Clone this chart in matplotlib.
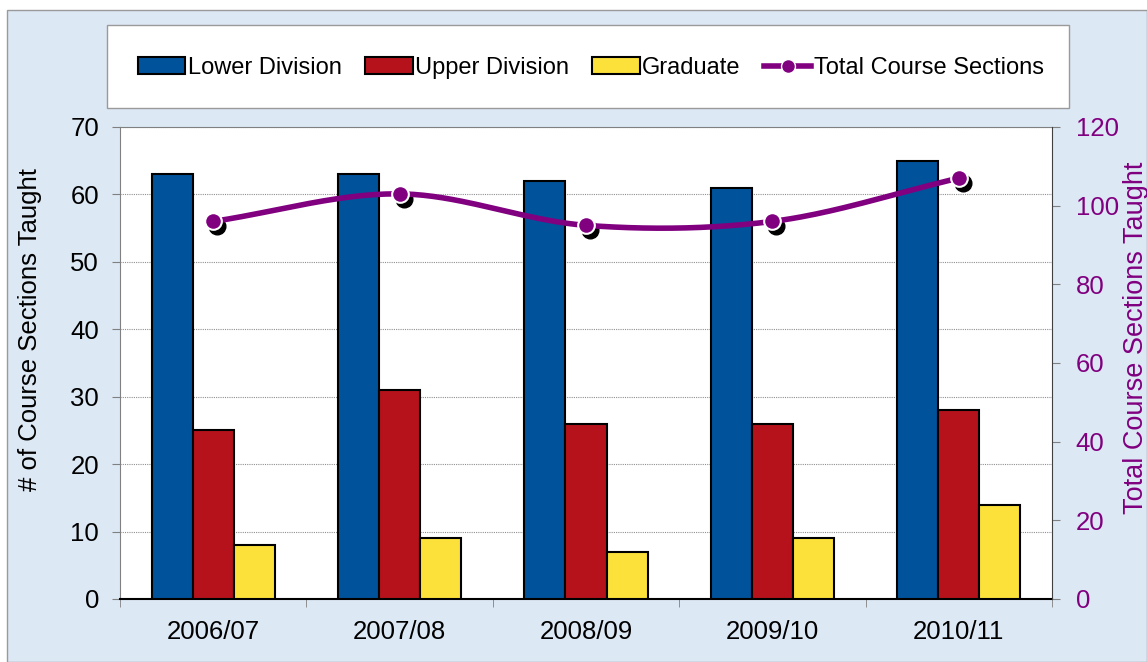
import numpy as np
import matplotlib
matplotlib.use("Agg")
import matplotlib.pyplot as plt
from matplotlib.patches import Rectangle, Patch
from matplotlib.lines import Line2D
import matplotlib.transforms as mtransforms

plt.rcParams['font.family'] = ['Liberation Sans', 'DejaVu Sans']

years = ['2006/07', '2007/08', '2008/09', '2009/10', '2010/11']
lower = [63, 63, 62, 61, 65]
upper = [25, 31, 26, 26, 28]
grad = [8, 9, 7, 9, 14]
total = [96, 103, 95, 96, 107]

blue = '#00539B'
red = '#B5121B'
yellow = '#FCE13A'
purple = '#800080'

W, H = 1147, 662
fig = plt.figure(figsize=(W / 100, H / 100), dpi=100)
fig.patch.set_facecolor('white')

# chart background panel
fig.patches.append(Rectangle((7 / W, 0), 1 - 7 / W, 1 - 10 / H, transform=fig.transFigure,
                             facecolor='#DCE8F4', edgecolor='#9A9A9A', lw=1, zorder=-2))
# legend box
fig.patches.append(Rectangle((107 / W, 1 - 108 / H), 962 / W, 83 / H, transform=fig.transFigure,
                             facecolor='white', edgecolor='#9A9A9A', lw=1, zorder=-1))

ax = fig.add_axes([120 / W, 1 - 599 / H, (1052 - 120) / W, (599 - 127) / H])
ax.set_facecolor('white')
x = np.arange(len(years))
bw = 0.22
ax.bar(x - bw, lower, bw, color=blue, edgecolor='black', lw=1.5, zorder=3)
ax.bar(x, upper, bw, color=red, edgecolor='black', lw=1.5, zorder=3)
ax.bar(x + bw, grad, bw, color=yellow, edgecolor='black', lw=1.5, zorder=3)

ax.set_xlim(-0.5, len(years) - 0.5)
ax.set_ylim(0, 70)
ax.set_yticks(range(0, 71, 10))
ax.set_xticks(x)
ax.set_xticklabels(years, fontsize=18.5)
ax.set_xticks(np.arange(-0.5, len(years), 1), minor=True)
ax.tick_params(axis='x', which='major', length=0, pad=15)
ax.tick_params(axis='x', which='minor', length=6, color='#808080', direction='out')
ax.tick_params(axis='y', labelsize=18.5, length=6, color='#808080', pad=9)
ax.grid(axis='y', color='#909090', lw=0.8, ls=(0, (1, 1)), zorder=0)
ax.set_ylabel('# of Course Sections Taught', fontsize=18.5)
ax.yaxis.set_label_coords(-0.084, 0.57)
for s in ['top', 'left']:
    ax.spines[s].set_color('#808080')
ax.spines['bottom'].set_color('black')
ax.spines['bottom'].set_linewidth(1.5)
ax.spines['right'].set_visible(False)

ax2 = ax.twinx()
ax2.set_ylim(0, 120)
ax2.set_yticks(range(0, 121, 20))
ax2.tick_params(axis='y', labelsize=18.5, colors=purple, length=6, pad=11)
ax2.tick_params(axis='y', color='#808080')
ax2.spines['right'].set_color('#404040')
for s in ['top', 'left', 'bottom']:
    ax2.spines[s].set_visible(False)
ax2.set_ylabel('Total Course Sections Taught', fontsize=19.5, color=purple)
ax2.yaxis.set_label_coords(1.076, 0.553)

# smoothed line (Catmull-Rom through the data points)
px = x.astype(float)
py = np.array(total, dtype=float)
ex = np.concatenate([[2 * px[0] - px[1]], px, [2 * px[-1] - px[-2]]])
ey = np.concatenate([[2 * py[0] - py[1]], py, [2 * py[-1] - py[-2]]])
sx, sy = [], []
t = np.linspace(0, 1, 40)
for i in range(1, len(ex) - 2):
    p0, p1, p2, p3 = [np.array([ex[j], ey[j]]) for j in range(i - 1, i + 3)]
    for tt in t:
        pt = 0.5 * ((2 * p1) + (-p0 + p2) * tt + (2 * p0 - 5 * p1 + 4 * p2 - p3) * tt ** 2
                    + (-p0 + 3 * p1 - 3 * p2 + p3) * tt ** 3)
        sx.append(pt[0])
        sy.append(pt[1])
ax2.plot(sx, sy, color=purple, lw=4, zorder=4, solid_capstyle='round')
shadow = mtransforms.offset_copy(ax2.transData, fig=fig, x=4, y=-5, units='dots')
ax2.plot(px, py, 'o', color='black', ms=12, transform=shadow, zorder=3)
ax2.plot(px, py, 'o', color=purple, mec='white', mew=1.5, ms=12, zorder=5)

handles = [Patch(facecolor=blue, edgecolor='black', lw=1.5),
           Patch(facecolor=red, edgecolor='black', lw=1.5),
           Patch(facecolor=yellow, edgecolor='black', lw=1.5),
           Line2D([], [], color=purple, lw=4, marker='o', ms=10, mec='white')]
labels = ['Lower Division', 'Upper Division', 'Graduate', 'Total Course Sections']
fig.legend(handles, labels, loc='center', bbox_to_anchor=(591 / W, 1 - 68 / H),
           ncol=4, frameon=False, fontsize=17, handlelength=2.0, handleheight=0.75,
           handletextpad=0.1, columnspacing=1.0)

fig.savefig('out.png', dpi=100)
